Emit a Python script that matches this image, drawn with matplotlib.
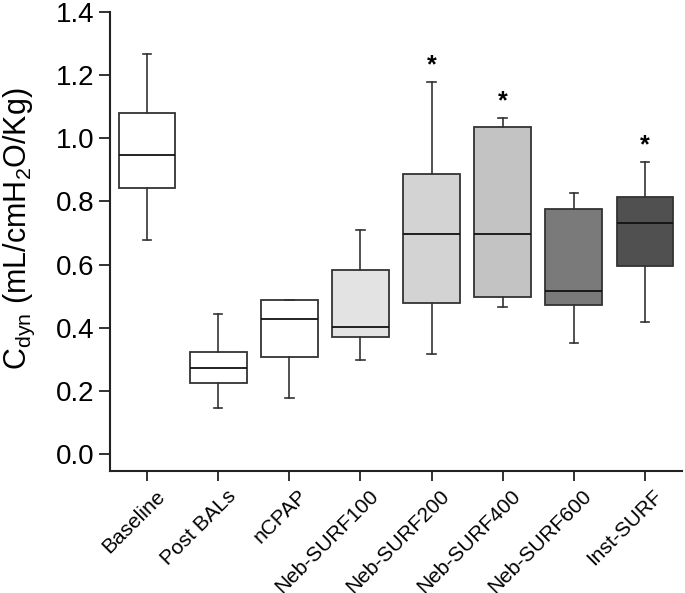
import numpy as np
import matplotlib.pyplot as plt
import matplotlib.transforms as mtransforms

plt.rcParams['font.family'] = ['Liberation Sans', 'DejaVu Sans']
plt.rcParams['mathtext.default'] = 'regular'

# Box summary values
groups = ['Baseline', 'Post BALs', 'nCPAP', 'Neb-SURF100', 'Neb-SURF200',
          'Neb-SURF400', 'Neb-SURF600', 'Inst-SURF']
whis_lo = [0.679, 0.145, 0.177, 0.297, 0.318, 0.465, 0.353, 0.417]
q1 = [0.843, 0.224, 0.306, 0.370, 0.477, 0.496, 0.471, 0.597]
median = [0.948, 0.272, 0.427, 0.402, 0.698, 0.698, 0.516, 0.733]
q3 = [1.081, 0.322, 0.487, 0.584, 0.886, 1.035, 0.775, 0.813]
whis_hi = [1.267, 0.442, 0.487, 0.711, 1.178, 1.065, 0.826, 0.925]
signif = [False, False, False, False, True, True, False, True]

fills = ['white', 'white', 'white', '#e3e3e3', '#d3d3d3', '#c3c3c3', '#7a7a7a', '#505050']

stats = []
for i, g in enumerate(groups):
    stats.append(dict(label=g, whislo=whis_lo[i], q1=q1[i], med=median[i],
                      q3=q3[i], whishi=whis_hi[i], fliers=[]))

fig = plt.figure(figsize=(6.85, 5.93), dpi=100)
ax = fig.add_axes([0.1606, 0.2057, 0.835, 0.774])

pos = np.arange(1, len(groups) + 1)
line_col = '#333333'
bp = ax.bxp(stats, positions=pos, widths=0.8, capwidths=0.12, patch_artist=True,
            showfliers=False,
            boxprops=dict(edgecolor=line_col, linewidth=1.3),
            medianprops=dict(color='#111111', linewidth=1.3),
            whiskerprops=dict(color=line_col, linewidth=1.2),
            capprops=dict(color=line_col, linewidth=1.2))
for patch, c in zip(bp['boxes'], fills):
    patch.set_facecolor(c)

for p, hi, s in zip(pos, whis_hi, signif):
    if s:
        ax.text(p, hi + 0.015, '*', ha='center', va='bottom', fontsize=18,
                fontweight='bold')

ax.set_xlim(0.48, 8.52)
ax.set_ylim(-0.054, 1.4)
ax.set_yticks(np.arange(0, 1.41, 0.2))
ax.set_yticklabels([f'{v:.1f}' for v in np.arange(0, 1.41, 0.2)])
ax.set_xticks(pos)
ax.set_xticklabels(groups, rotation=45, ha='right', rotation_mode='anchor', fontsize=15)
ax.tick_params(axis='y', labelsize=20, width=1.3, length=8, color='#222222', pad=3)
ax.tick_params(axis='x', width=1.3, length=7, color='#222222', pad=4)
# nudge the slanted labels to the right, as in the original
shift = mtransforms.ScaledTranslation(8 / 100, 0, fig.dpi_scale_trans)
for lab in ax.get_xticklabels():
    lab.set_transform(lab.get_transform() + shift)
for side in ['top', 'right']:
    ax.spines[side].set_visible(False)
for side in ['left', 'bottom']:
    ax.spines[side].set_linewidth(1.5)
    ax.spines[side].set_color('#222222')

ax.set_ylabel(r'C$_{dyn}$ (mL/cmH$_2$O/Kg)', fontsize=22)
ax.yaxis.set_label_coords(-0.128, 0.527)

fig.savefig('out.png', dpi=100)
